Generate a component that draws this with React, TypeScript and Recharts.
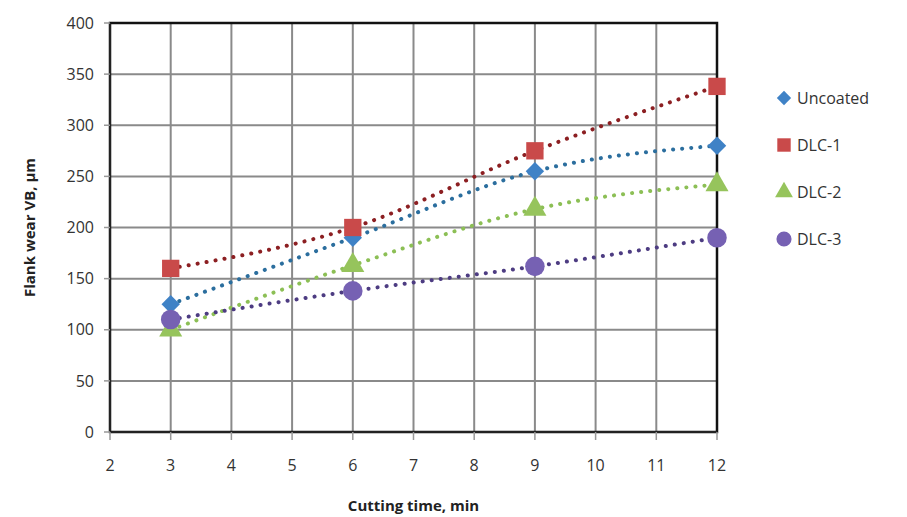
import { LineChart, Line, XAxis, YAxis, CartesianGrid, Legend, ReferenceArea, Symbols, Label } from "recharts";

const cuttingTime = [3, 6, 9, 12];
const uncoated = [125, 190, 255, 280];
const dlc1 = [160, 200, 275, 338];
const dlc2 = [100, 163, 218, 242];
const dlc3 = [110, 138, 162, 190];
const xTicks = [2, 3, 4, 5, 6, 7, 8, 9, 10, 11, 12];
const yTicks = [0, 50, 100, 150, 200, 250, 300, 350, 400];

const series = [
  { key: "uncoated", name: "Uncoated", values: uncoated, marker: "#3f82c6", line: "#2b6e9e", shape: "diamond", size: 170 },
  { key: "dlc1", name: "DLC-1", values: dlc1, marker: "#c94a4a", line: "#8c1f22", shape: "square", size: 300 },
  { key: "dlc2", name: "DLC-2", values: dlc2, marker: "#96c45c", line: "#8cbf55", shape: "triangle", size: 230 },
  { key: "dlc3", name: "DLC-3", values: dlc3, marker: "#7661b3", line: "#4d3c82", shape: "circle", size: 300 },
];

const data = cuttingTime.map((t, i) => {
  const row: Record<string, number> = { t };
  series.forEach((s) => (row[s.key] = s.values[i]));
  return row;
});

const font = "'Open Sans', 'Noto Sans', sans-serif";

function Marker({ shape, size, fill, cx, cy }: { shape: string; size: number; fill: string; cx: number; cy: number }) {
  if (shape === "diamond") {
    // excel diamond = square turned 45deg
    return (
      <g transform={`rotate(45 ${cx} ${cy})`}>
        <Symbols cx={cx} cy={cy} type="square" size={size} fill={fill} />
      </g>
    );
  }
  return <Symbols cx={cx} cy={cy} type={shape as any} size={size} fill={fill} />;
}

function makeDot(shape: string, size: number, fill: string) {
  return (p: any) => <Marker key={`${shape}-${p.index}`} shape={shape} size={size} fill={fill} cx={p.cx} cy={p.cy} />;
}

function LegendBox() {
  return (
    <div style={{ fontFamily: font, fontSize: 16, color: "#333" }}>
      {series.map((s) => (
        <div key={s.key} style={{ display: "flex", alignItems: "center", height: 47 }}>
          <svg width={22} height={22}>
            <Marker shape={s.shape} size={s.size * 0.6} fill={s.marker} cx={11} cy={11} />
          </svg>
          <span style={{ marginLeft: 2 }}>{s.name}</span>
        </div>
      ))}
    </div>
  );
}

export default function App() {
  return (
    <div style={{ position: "absolute", left: 0, top: 0, background: "#fff" }}>
      <LineChart width={907} height={517} data={data} margin={{ top: 23, right: 56, bottom: 0, left: 0 }}>
        <CartesianGrid stroke="#8a8a8a" strokeWidth={2} horizontalValues={yTicks} verticalValues={xTicks} />
        <XAxis
          dataKey="t"
          type="number"
          domain={[2, 12]}
          ticks={xTicks}
          height={85}
          tickSize={8}
          tickMargin={20}
          axisLine={{ stroke: "#222", strokeWidth: 2 }}
          tickLine={{ stroke: "#999", strokeWidth: 1.5 }}
          tick={{ fill: "#333", fontSize: 16, fontFamily: font }}
        >
          <Label value="Cutting time, min" position="insideBottom" offset={6} style={{ fill: "#222", fontSize: 15, fontWeight: 700, fontFamily: font }} />
        </XAxis>
        <YAxis
          type="number"
          domain={[0, 400]}
          ticks={yTicks}
          width={110}
          tickSize={6}
          tickMargin={10}
          axisLine={{ stroke: "#222", strokeWidth: 2 }}
          tickLine={{ stroke: "#999", strokeWidth: 1.5 }}
          tick={{ fill: "#333", fontSize: 16, fontFamily: font }}
        >
          <Label value="Flank wear VB, µm" angle={-90} position="insideLeft" offset={30} style={{ fill: "#222", fontSize: 15, fontWeight: 700, fontFamily: font, textAnchor: "middle" }} />
        </YAxis>
        <ReferenceArea x1={2} x2={12} y1={0} y2={400} fill="none" stroke="#111" strokeWidth={2.5} ifOverflow="visible" />
        {series.map((s) => (
          <Line
            key={s.key}
            dataKey={s.key}
            name={s.name}
            type="monotone"
            stroke={s.line}
            strokeWidth={4}
            strokeDasharray="0.1 9"
            strokeLinecap="round"
            dot={makeDot(s.shape, s.size, s.marker)}
            activeDot={false}
            isAnimationActive={false}
          />
        ))}
        <Legend layout="vertical" align="right" verticalAlign="top" content={() => <LegendBox />} wrapperStyle={{ left: 773, top: 74, width: 134 }} />
      </LineChart>
    </div>
  );
}
